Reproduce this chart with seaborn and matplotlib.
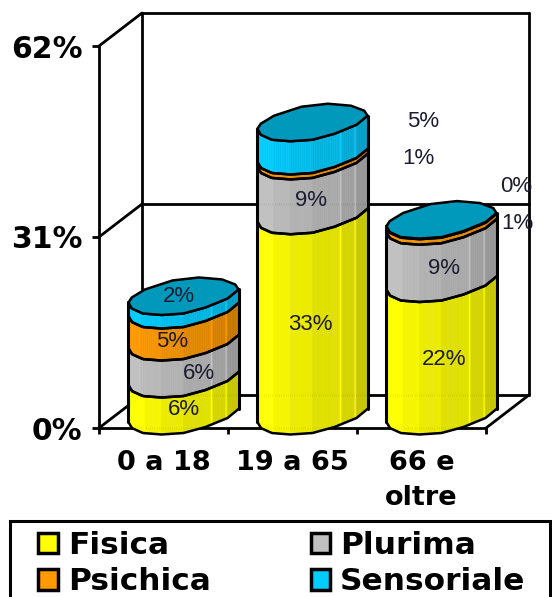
import numpy as np
import pandas as pd
import seaborn as sns
import matplotlib.pyplot as plt
from matplotlib.patches import Patch, Polygon, Rectangle

# values
eta = ["0 a 18", "19 a 65", "66 e\noltre"]
fisica = [6.0, 32.5, 21.5]
plurima = [6.0, 8.9, 9.3]
psichica = [5.2, 0.8, 0.9]
sensoriale = [2.2, 5.4, 0.1]
etichette = [["6%", "33%", "22%"], ["6%", "9%", "9%"], ["5%", "1%", "1%"], ["2%", "5%", "0%"]]
nomi = ["Fisica", "Plurima", "Psichica", "Sensoriale"]
colori = ["#FFFF00", "#C0C0C0", "#FF9900", "#00CCFF"]
cap_color = "#0099BB"
y_ticks = [0, 31, 62]

# pixel scale of the axes
PX_X = 1 / 129
PX_Y = 62 / 382

# where each label sits relative to its segment, in pixels (right, down)
shift = [[(0, 4), (-2, 1), (3, 2)],
         [(15, 5), (-1, 4), (2, 6)],
         [(-11, 7), (106, -8), (76, -8)],
         [(-5, -15), (111, -26), (75, -42)]]

# shape of the tilted "cylinder", pixels relative to left edge
front_u = [0, 0.03, 0.13, 0.3, 0.5, 0.7, 0.9, 1]
front_off = [0, 6, 11, 12.5, 11, 5, -4, -13]
back_u = [1, 0.97, 0.85, 0.64, 0.4, 0.15, 0.03, 0]
back_off = [-13, -18, -23, -25, -22, -13, -5, 0]
shades = [(0.15, 1.0), (0.3, 0.96), (0.5, 0.92), (0.75, 0.88), (0.77, 1.0), (0.88, 0.83), (0.9, 0.95), (1.01, 0.78)]

sns.set_style("white")
plt.rcParams["font.family"] = ["DejaVu Sans"]
plt.rcParams["text.color"] = "black"
plt.rcParams["xtick.color"] = "black"
plt.rcParams["ytick.color"] = "black"

fig = plt.figure(figsize=(5.52, 5.97), dpi=100)
ax = fig.add_axes([99 / 552, 169 / 597, 387 / 552, 382 / 597])

cum = np.cumsum([fisica, plurima, psichica, sensoriale], axis=0)
df = pd.DataFrame(cum.T, columns=nomi)
df["eta"] = eta


def shade_color(col, f):
    rgb = np.array(plt.matplotlib.colors.to_rgb(col))
    return tuple(rgb * f)


def shade_at(u):
    for lim, f in shades:
        if u < lim:
            return f
    return shades[-1][1]


def profile(u):
    return np.interp(u, front_u, front_off)


lift = 6 * PX_Y
depth_x = 43 * PX_X
depth_y = 33 * PX_Y

# walls
wall = dict(color="black", lw=2, clip_on=False, zorder=1, solid_capstyle="round")
for t in y_ticks:
    ax.plot([-0.5, -0.5 + depth_x], [t, t + depth_y], **wall)
    ax.plot([-0.5 + depth_x, 2.5 + depth_x], [t + depth_y, t + depth_y], **wall)
ax.plot([-0.5 + depth_x, -0.5 + depth_x], [depth_y, 62 + depth_y], **wall)
ax.plot([2.5 + depth_x, 2.5 + depth_x], [depth_y, 62 + depth_y], **wall)
ax.plot([2.5, 2.5 + depth_x], [0, depth_y], **wall)

# seaborn bars give the geometry, the cylinders are drawn over them
grid = np.linspace(0, 1, 61)
for s, nome in enumerate(nomi):
    n_before = len(ax.patches)
    sns.barplot(data=df, x="eta", y=nome, order=eta, width=0.853, color=colori[s], ax=ax, errorbar=None)
    for b, bar in enumerate(ax.patches[n_before:]):
        bar.set_visible(False)
        x0 = bar.get_x() + 20 * PX_X
        w = bar.get_width()
        top = bar.get_height()
        bottom = top - [fisica, plurima, psichica, sensoriale][s][b]
        for u0, u1 in zip(grid[:-1], grid[1:]):
            um = (u0 + u1) / 2
            pts = [(x0 + u0 * w, top + lift - profile(u0) * PX_Y),
                   (x0 + u1 * w, top + lift - profile(u1) * PX_Y),
                   (x0 + u1 * w, bottom + lift - profile(u1) * PX_Y),
                   (x0 + u0 * w, bottom + lift - profile(u0) * PX_Y)]
            c = shade_color(colori[s], shade_at(um))
            ax.add_patch(Polygon(pts, fc=c, ec=c, lw=0.4, clip_on=False, zorder=3 + s))
        xs = x0 + grid * w
        ax.plot(xs, top + lift - profile(grid) * PX_Y, color="black", lw=1.8, clip_on=False, zorder=8)
        ax.plot(xs, bottom + lift - profile(grid) * PX_Y, color="black", lw=1.8, clip_on=False, zorder=8)
        ax.plot([x0, x0], [bottom + lift, top + lift], color="black", lw=2.2, clip_on=False, zorder=8)
        ax.plot([x0 + w, x0 + w], [bottom + lift - front_off[-1] * PX_Y, top + lift - front_off[-1] * PX_Y],
                color="black", lw=2.2, clip_on=False, zorder=8)
        if s == 3:
            outline = [(x0 + u * w, top + lift - o * PX_Y) for u, o in zip(front_u, front_off)]
            outline += [(x0 + u * w, top + lift - o * PX_Y) for u, o in zip(back_u, back_off)]
            ax.add_patch(Polygon(outline, fc=cap_color, ec="black", lw=1.8, clip_on=False, zorder=9))
        # label
        mid = (top + bottom) / 2 + lift
        dx, dy = shift[s][b]
        ax.annotate(etichette[s][b], xy=(x0 + w / 2, mid), xytext=(dx * 0.72, -(dy + 2) * 0.72),
                    textcoords="offset points", ha="center", va="center", fontsize=16,
                    fontfamily="Liberation Sans", color="#1c1c30", zorder=12, annotation_clip=False)

# axes
ax.set_xlim(-0.5, 2.5)
ax.set_ylim(0, 62)
ax.patch.set_alpha(0)
sns.despine(ax=ax, top=True, right=True)
for side in ["left", "bottom"]:
    ax.spines[side].set_color("black")
    ax.spines[side].set_linewidth(2)
    ax.spines[side].set_zorder(2)
ax.set_xlabel("")
ax.set_ylabel("")
ax.set_yticks(y_ticks)
ax.set_yticklabels([f"{t}%" for t in y_ticks], fontsize=21.5, fontweight="bold")
ax.tick_params(axis="y", left=True, length=5, width=2, color="black", pad=7)
ax.set_xticks(range(3))
ax.set_xticklabels(eta, fontsize=19.5, fontweight="bold", linespacing=1.45)
ax.set_xticks([-0.5, 0.5, 1.5, 2.5], minor=True)
ax.tick_params(axis="x", which="major", bottom=False, pad=12)
ax.tick_params(axis="x", which="minor", bottom=True, length=4, width=2, color="black")

# legend box runs off the bottom of the canvas like the original
fig.add_artist(Rectangle((10 / 552, -0.02), 540 / 552, 1 - 521 / 597 + 0.02, transform=fig.transFigure,
                         fc="white", ec="black", lw=2.2))
handles = [Patch(fc=colori[i], ec="black", lw=2.5, label=nomi[i]) for i in [0, 2, 1, 3]]
leg = fig.legend(handles=handles, ncol=2, loc="upper left", bbox_to_anchor=(38 / 552, 1 - 531 / 597),
                 bbox_transform=fig.transFigure, fontsize=22.5, frameon=False,
                 handlelength=0.63, handleheight=0.63, handletextpad=0.32, columnspacing=3.2,
                 labelspacing=0.24, borderpad=0, borderaxespad=0)
for t in leg.get_texts():
    t.set_fontweight("bold")

fig.savefig("out.png", dpi=100)
